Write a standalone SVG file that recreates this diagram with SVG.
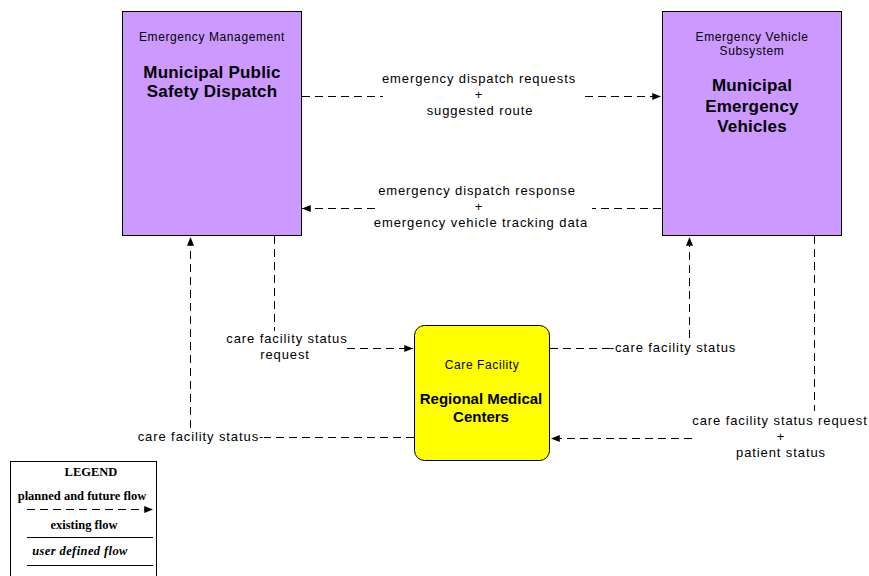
<svg xmlns="http://www.w3.org/2000/svg" width="869" height="576" viewBox="0 0 869 576">
<defs>
<style>
.box{fill:#CC99FF;stroke:#000;stroke-width:1}
.yel{fill:#FFFF00;stroke:#000;stroke-width:1}
.sub{font-family:"Liberation Sans",Arial,sans-serif;font-size:12px;letter-spacing:0.6px;text-anchor:middle;fill:#000}
.ttl{font-family:"Liberation Sans",Arial,sans-serif;font-size:17px;font-weight:bold;letter-spacing:0.2px;text-anchor:middle;fill:#000}
.ttl2{font-family:"Liberation Sans",Arial,sans-serif;font-size:15px;font-weight:bold;text-anchor:middle;fill:#000}
.lbl{font-family:"Liberation Sans",Arial,sans-serif;font-size:13px;letter-spacing:0.9px;text-anchor:middle;fill:#000}
.flow{fill:none;stroke:#000;stroke-width:1;stroke-dasharray:8 5;marker-end:url(#ah);shape-rendering:crispEdges}
.leg{font-family:"Liberation Serif","Times New Roman",serif;font-size:12.5px;font-weight:bold;text-anchor:middle;fill:#000}
</style>
<marker id="ah" viewBox="0 0 10 8" refX="10" refY="4" markerUnits="userSpaceOnUse" markerWidth="9" markerHeight="7" orient="auto">
<path d="M0,0 L10,4 L0,8 Z" fill="#000"/>
</marker>
</defs>
<rect width="869" height="576" fill="#fff"/>

<g id="connectors">
<path class="flow" d="M302,96.5 H383 M585,96.5 H661"/>
<path class="flow" d="M661,208.5 H592 M375,208.5 H302"/>
<path class="flow" d="M414,437.5 H264 M190.5,428 V237"/>
<path class="flow" d="M274.5,236 V331 M347,348.5 H413"/>
<path class="flow" d="M550,348.5 H612 M689.5,338 V237"/>
<path class="flow" d="M814.5,236 V411 M692,438.5 H551"/>
<text class="lbl" x="479" y="83">emergency dispatch requests</text>
<text class="lbl" x="479" y="99">+</text>
<text class="lbl" x="480" y="115">suggested route</text>
<text class="lbl" x="477" y="195">emergency dispatch response</text>
<text class="lbl" x="479" y="211">+</text>
<text class="lbl" x="481" y="227">emergency vehicle tracking data</text>
<text class="lbl" x="287" y="343">care facility status</text>
<text class="lbl" x="285" y="359">request</text>
<text class="lbl" x="201" y="441">care facility status-</text>
<text class="lbl" x="673" y="352">-care facility status</text>
<text class="lbl" x="780" y="425">care facility status request</text>
<text class="lbl" x="781" y="441">+</text>
<text class="lbl" x="781" y="457">patient status</text>
</g>

<g id="node-mpsd">
<rect class="box" x="122.5" y="11.5" width="179" height="224"/>
<text class="sub" x="212" y="41">Emergency Management</text>
<text class="ttl" x="212" y="78">Municipal Public</text>
<text class="ttl" x="212" y="97">Safety Dispatch</text>
</g>

<g id="node-mev">
<rect class="box" x="662.5" y="11.5" width="179" height="224"/>
<text class="sub" x="752" y="41">Emergency Vehicle</text>
<text class="sub" x="752" y="55">Subsystem</text>
<text class="ttl" x="752" y="91">Municipal</text>
<text class="ttl" x="752" y="112">Emergency</text>
<text class="ttl" x="752" y="132">Vehicles</text>
</g>

<g id="node-rmc">
<rect class="yel" x="414.5" y="325.5" width="135" height="135" rx="10" ry="10"/>
<text class="sub" x="482" y="369">Care Facility</text>
<text class="ttl2" x="481" y="404">Regional Medical</text>
<text class="ttl2" x="481" y="422">Centers</text>
</g>

<g id="legend">
<rect x="10.5" y="461.5" width="146" height="130" fill="#fff" stroke="#000" stroke-width="1"/>
<text class="leg" x="91" y="476">LEGEND</text>
<text class="leg" x="82" y="500">planned and future flow</text>
<path class="flow" d="M27,509.5 H153"/>
<text class="leg" x="84" y="529">existing flow</text>
<path d="M27,537.5 H153" stroke="#000" stroke-width="1"/>
<text class="leg" x="80" y="555" font-style="italic" letter-spacing="0.4">user defined flow</text>
<path d="M27,565.5 H153" stroke="#000" stroke-width="1"/>
</g>
</svg>
